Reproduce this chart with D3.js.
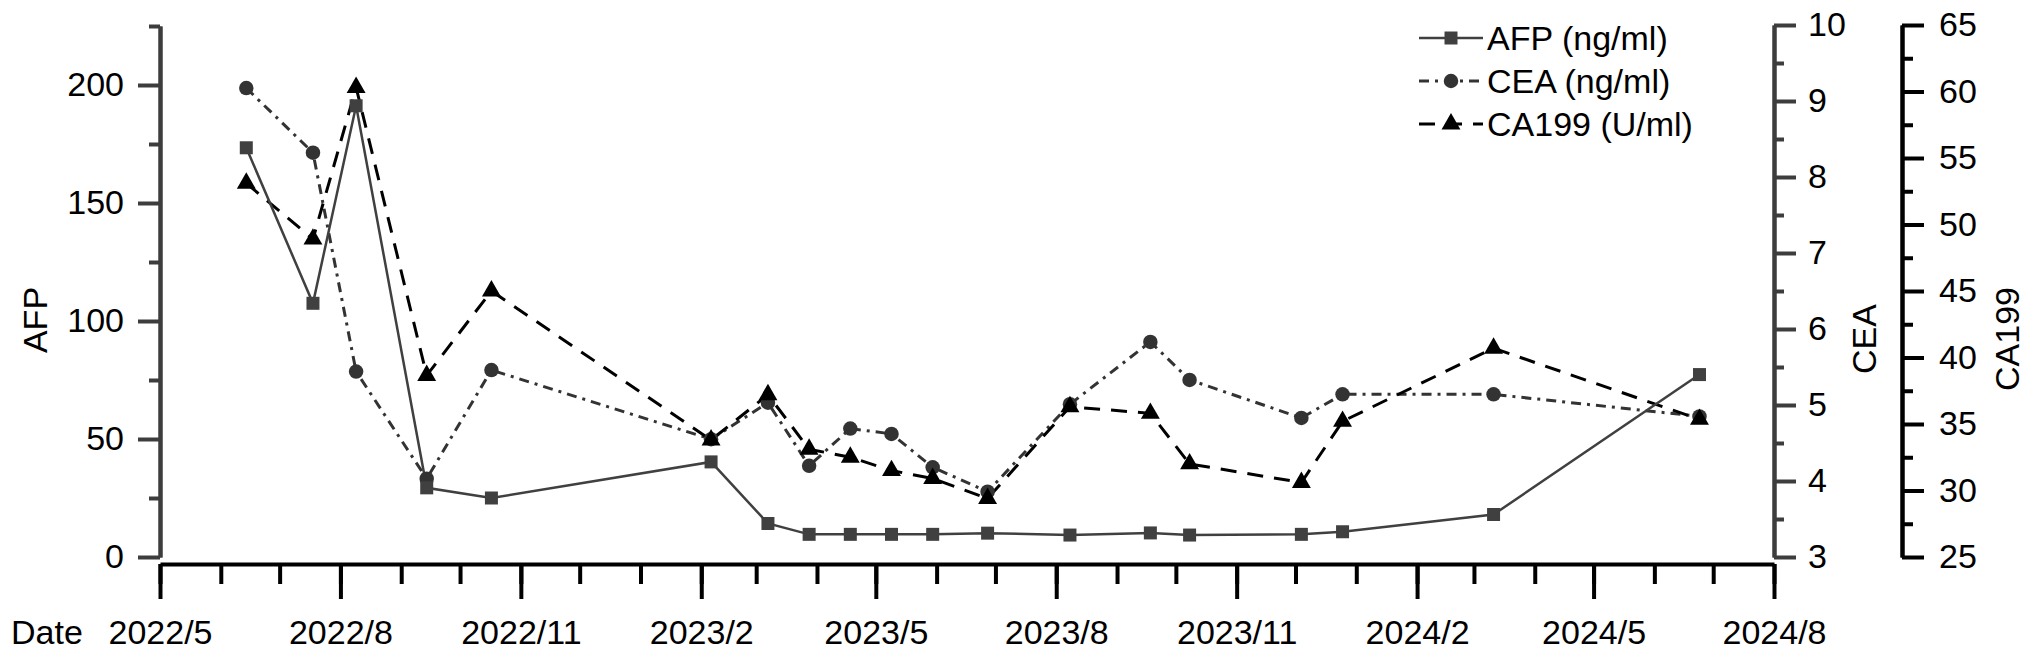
<!DOCTYPE html>
<html>
<head>
<meta charset="utf-8">
<script src="https://cdn.jsdelivr.net/npm/d3@7"></script>
<style>
  body { margin: 0; background: #fff; }
  svg text { font-family: "Liberation Sans", Arial, sans-serif; font-size: 34px; fill: #000; }
</style>
</head>
<body>
<script>
// sample dates and marker values
const dates = [
  "2022-06-14", "2022-07-18", "2022-08-09", "2022-09-14", "2022-10-17",
  "2023-02-06", "2023-03-07", "2023-03-28", "2023-04-18", "2023-05-09",
  "2023-05-30", "2023-06-27", "2023-08-08", "2023-09-18", "2023-10-08",
  "2023-12-04", "2023-12-25", "2024-03-11", "2024-06-24",
];
const afp = [173.4, 107.5, 191.2, 29.3, 25.0, 40.3, 14.2, 9.6, 9.6, 9.6, 9.6, 10.1, 9.3, 10.2, 9.3, 9.6, 10.7, 18.0, 77.3];
const cea = [9.17, 8.32, 5.44, 4.03, 5.46, 4.55, 5.03, 4.2, 4.69, 4.62, 4.18, 3.86, 5.01, 5.83, 5.33, 4.83, 5.14, 5.14, 4.85];
const ca199 = [53.1, 48.9, 60.3, 38.65, 45.0, 33.8, 37.2, 33.1, 32.5, 31.5, 30.9, 29.4, 36.3, 35.8, 32.0, 30.6, 35.2, 40.7, 35.35];

const xTickLabels = ["2022/5", "2022/8", "2022/11", "2023/2", "2023/5", "2023/8", "2023/11", "2024/2", "2024/5", "2024/8"];
const afpTicks = [0, 50, 100, 150, 200];
const ceaTicks = [3, 4, 5, 6, 7, 8, 9, 10];
const ca199Ticks = [25, 30, 35, 40, 45, 50, 55, 60, 65];
const legendLabels = ["AFP (ng/ml)", "CEA (ng/ml)", "CA199 (U/ml)"];

const w = 2032;
const h = 658;
const font = '"Liberation Sans", Arial, sans-serif';
const parse = d3.timeParse("%Y-%m-%d");
const parseMonth = d3.timeParse("%Y/%m");
const days = dates.map(parse);
const xMajorTicks = xTickLabels.map(parseMonth);

const x = d3.scaleTime()
  .domain([xMajorTicks[0], xMajorTicks[xMajorTicks.length - 1]])
  .range([160, 1774]);
const yAfp = d3.scaleLinear().domain([0, 225]).range([557, 26]);
const yCea = d3.scaleLinear().domain([3, 10]).range([557, 25]);
const yCa = d3.scaleLinear().domain([25, 65]).range([557, 25]);

const svg = d3.select("body").append("svg").attr("width", w).attr("height", h);

function styleAxis(g, color, width) {
  g.selectAll("path").attr("stroke", color).attr("stroke-width", width);
  g.selectAll("line").attr("stroke", color).attr("stroke-width", width);
  g.selectAll("text").attr("fill", "#000").style("font-size", "34px").style("font-family", font);
}

// x axis: monthly minor ticks, quarterly labelled ticks
const xMinor = svg.append("g").attr("transform", "translate(0,564)")
  .call(d3.axisBottom(x).ticks(d3.timeMonth.every(1)).tickSize(20).tickSizeOuter(0).tickFormat(""));
styleAxis(xMinor, "#000", 4);
const xMajor = svg.append("g").attr("transform", "translate(0,564)")
  .call(d3.axisBottom(x).tickValues(xMajorTicks).tickSize(35).tickSizeOuter(0)
    .tickPadding(21).tickFormat((d, i) => xTickLabels[i]));
styleAxis(xMajor, "#000", 4);
xMajor.select("path").remove();

// AFP axis
const afpMinor = svg.append("g").attr("transform", "translate(160,0)")
  .call(d3.axisLeft(yAfp).tickValues([25, 75, 125, 175, 225]).tickSize(11).tickSizeOuter(0).tickFormat(""));
styleAxis(afpMinor, "#3d3d3d", 4);
const afpMajor = svg.append("g").attr("transform", "translate(160,0)")
  .call(d3.axisLeft(yAfp).tickValues(afpTicks).tickSize(22).tickSizeOuter(0).tickPadding(14));
styleAxis(afpMajor, "#3d3d3d", 4);

// CEA axis
const ceaMinor = svg.append("g").attr("transform", "translate(1774,0)")
  .call(d3.axisRight(yCea).tickValues(d3.range(3.5, 10, 1)).tickSize(10).tickSizeOuter(0).tickFormat(""));
styleAxis(ceaMinor, "#3d3d3d", 4);
const ceaMajor = svg.append("g").attr("transform", "translate(1774,0)")
  .call(d3.axisRight(yCea).tickValues(ceaTicks).tickSize(22).tickSizeOuter(0).tickPadding(12)
    .tickFormat(d3.format("d")));
styleAxis(ceaMajor, "#3d3d3d", 4);

// CA199 axis
const caMinor = svg.append("g").attr("transform", "translate(1902,0)")
  .call(d3.axisRight(yCa).tickValues(d3.range(27.5, 65, 5)).tickSize(11).tickSizeOuter(0).tickFormat(""));
styleAxis(caMinor, "#000", 4);
const caMajor = svg.append("g").attr("transform", "translate(1902,0)")
  .call(d3.axisRight(yCa).tickValues(ca199Ticks).tickSize(22).tickSizeOuter(0).tickPadding(15));
styleAxis(caMajor, "#000", 4);

// axis titles
svg.append("text").attr("transform", "translate(35,320) rotate(-90)")
  .attr("text-anchor", "middle").attr("dominant-baseline", "central").text("AFP");
svg.append("text").attr("transform", "translate(1864,339) rotate(-90)")
  .attr("text-anchor", "middle").attr("dominant-baseline", "central").text("CEA");
svg.append("text").attr("transform", "translate(2007,339) rotate(-90)")
  .attr("text-anchor", "middle").attr("dominant-baseline", "central").text("CA199");
svg.append("text").attr("x", 11).attr("y", 644).text("Date");

const series = [
  { name: legendLabels[0], vals: afp, y: yAfp, color: "#404040", width: 2.5, dash: null, sym: d3.symbolSquare, size: 169 },
  { name: legendLabels[1], vals: cea, y: yCea, color: "#333", width: 3, dash: "10,6,3,6", sym: d3.symbolCircle, size: 165 },
  { name: legendLabels[2], vals: ca199, y: yCa, color: "#000", width: 3, dash: "16,11", sym: d3.symbolTriangle, size: 155 },
];

const drawOrder = [1, 2, 0];
drawOrder.forEach((i) => {
  const s = series[i];
  const line = d3.line().x((d, j) => x(days[j])).y((d) => s.y(d));
  svg.append("path").datum(s.vals)
    .attr("fill", "none").attr("stroke", s.color).attr("stroke-width", s.width)
    .attr("stroke-dasharray", s.dash).attr("d", line);
});
drawOrder.forEach((i) => {
  const s = series[i];
  svg.append("g").selectAll("path").data(s.vals).enter().append("path")
    .attr("transform", (d, j) => `translate(${x(days[j])},${s.y(d)})`)
    .attr("d", d3.symbol().type(s.sym).size(s.size))
    .attr("fill", s.color);
});

// legend
const legendY = [38, 81, 124];
series.forEach((s, i) => {
  const g = svg.append("g").attr("transform", `translate(1419,${legendY[i]})`);
  g.append("line").attr("x1", 0).attr("x2", 64).attr("y1", 0).attr("y2", 0)
    .attr("stroke", s.color).attr("stroke-width", s.width).attr("stroke-dasharray", s.dash);
  g.append("path").attr("transform", "translate(32,0)")
    .attr("d", d3.symbol().type(s.sym).size(s.size)).attr("fill", s.color);
  g.append("text").attr("x", 68).attr("dominant-baseline", "central").text(s.name);
});
</script>
</body>
</html>
